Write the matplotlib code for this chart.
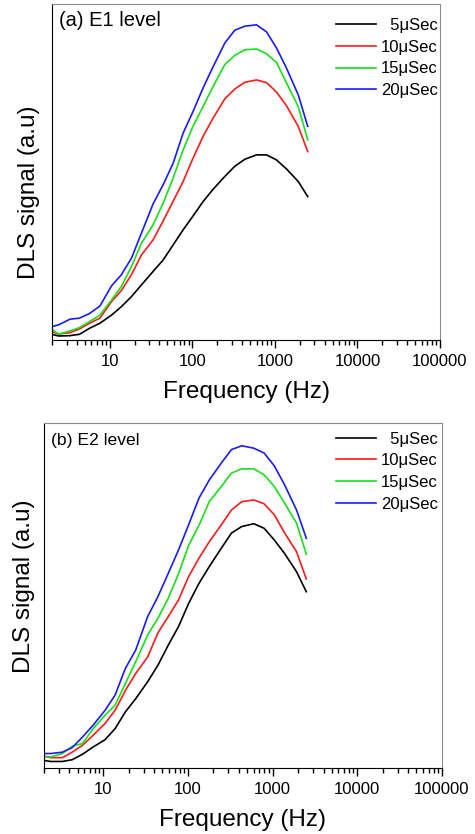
import matplotlib
matplotlib.use("Agg")
import matplotlib.pyplot as plt
from matplotlib.ticker import LogLocator, NullFormatter, FixedLocator, FixedFormatter

plt.rcParams['font.family'] = ['Liberation Sans', 'DejaVu Sans']

freq = [2, 2.4, 3.3, 4.3, 5.7, 7.6, 10.5, 13.8, 18.3, 24.2, 33.5, 44.3, 58.6,
        77.5, 102, 135, 179, 248, 327, 433, 600, 793, 1047, 1384, 1917, 2500]

labels = ["  5\u03bcSec", "10\u03bcSec", "15\u03bcSec", "20\u03bcSec"]
colors = ["#000000", "#ff1a1a", "#1adf1a", "#1a1aff"]

# (a) E1 level
e1_5 = [0.017, 0.012, 0.013, 0.017, 0.035, 0.050, 0.074, 0.099, 0.129, 0.164, 0.204, 0.238, 0.283,
        0.328, 0.369, 0.412, 0.449, 0.487, 0.517, 0.538, 0.551, 0.551, 0.536, 0.509, 0.472, 0.427]
e1_10 = [0.025, 0.018, 0.022, 0.033, 0.050, 0.065, 0.114, 0.147, 0.194, 0.253, 0.298, 0.354, 0.413,
         0.472, 0.541, 0.606, 0.661, 0.718, 0.747, 0.767, 0.774, 0.766, 0.738, 0.697, 0.636, 0.561]
e1_15 = [0.032, 0.017, 0.027, 0.037, 0.055, 0.074, 0.119, 0.159, 0.218, 0.288, 0.343, 0.407, 0.482,
         0.566, 0.636, 0.695, 0.755, 0.820, 0.847, 0.864, 0.866, 0.852, 0.826, 0.765, 0.695, 0.596]
e1_20 = [0.040, 0.045, 0.062, 0.065, 0.079, 0.101, 0.161, 0.194, 0.243, 0.318, 0.405, 0.462, 0.526,
         0.616, 0.680, 0.750, 0.814, 0.884, 0.922, 0.934, 0.938, 0.917, 0.869, 0.809, 0.730, 0.636]

# (b) E2 level
e2_5 = [0.022, 0.019, 0.019, 0.024, 0.040, 0.061, 0.082, 0.114, 0.163, 0.201, 0.250, 0.298, 0.356,
        0.410, 0.477, 0.535, 0.584, 0.637, 0.681, 0.700, 0.708, 0.695, 0.661, 0.622, 0.569, 0.511]
e2_10 = [0.034, 0.030, 0.030, 0.046, 0.066, 0.095, 0.129, 0.167, 0.225, 0.274, 0.322, 0.392, 0.439,
         0.487, 0.555, 0.608, 0.656, 0.705, 0.748, 0.772, 0.777, 0.766, 0.734, 0.682, 0.627, 0.548]
e2_15 = [0.034, 0.032, 0.042, 0.063, 0.071, 0.114, 0.153, 0.182, 0.245, 0.308, 0.386, 0.434, 0.492,
         0.563, 0.645, 0.703, 0.772, 0.816, 0.855, 0.867, 0.867, 0.850, 0.816, 0.768, 0.710, 0.620]
e2_20 = [0.042, 0.042, 0.046, 0.059, 0.090, 0.124, 0.167, 0.211, 0.289, 0.342, 0.439, 0.497, 0.564,
         0.632, 0.705, 0.782, 0.835, 0.884, 0.923, 0.934, 0.927, 0.913, 0.876, 0.821, 0.748, 0.666]

xticks = [10, 100, 1000, 10000, 100000]
xticklabels = ["10", "100", "1000", "10000", "100000"]

fig = plt.figure(figsize=(4.75, 8.34), dpi=100)
ax1 = fig.add_axes([0.1095, 0.5923, 0.8168, 0.4029])
ax2 = fig.add_axes([0.0926, 0.0791, 0.8379, 0.4137])


def style(ax, series, panel, panel_size, panel_xy, ylab_xy, leg_anchor):
    for ys, lab, c in zip(series, labels, colors):
        ax.plot(freq, ys, color=c, lw=1.2, label=lab)
    ax.set_xscale('log')
    ax.set_xlim(2, 100000)
    ax.set_ylim(0, 1)
    ax.xaxis.set_major_locator(FixedLocator(xticks))
    ax.xaxis.set_major_formatter(FixedFormatter(xticklabels))
    ax.xaxis.set_minor_locator(LogLocator(base=10, subs=range(2, 10)))
    ax.xaxis.set_minor_formatter(NullFormatter())
    ax.tick_params(axis='x', which='major', direction='out', length=6, width=1,
                   labelsize=12, pad=4)
    ax.tick_params(axis='x', which='minor', direction='out', length=3.5, width=1)
    ax.set_yticks([])
    for s in ['top', 'right']:
        ax.spines[s].set_color('#8c8c8c')
    for s in ['left', 'bottom']:
        ax.spines[s].set_color('black')
    ax.set_xlabel('Frequency (Hz)', fontsize=17.5, labelpad=9)
    ax.set_ylabel('DLS signal (a.u)', fontsize=17.5)
    ax.yaxis.set_label_coords(*ylab_xy)
    ax.text(panel_xy[0], panel_xy[1], panel, transform=ax.transAxes,
            fontsize=panel_size, va='center', ha='left')
    ax.legend(loc='upper right', bbox_to_anchor=leg_anchor, frameon=False,
              fontsize=12, handlelength=2.4, handletextpad=0.3,
              labelspacing=0.4, borderaxespad=0, borderpad=0)


style(ax1, [e1_5, e1_10, e1_15, e1_20], '(a) E1 level', 14.5, (0.018, 0.952), (-0.031, 0.44),
      (0.995, 0.958))
style(ax2, [e2_5, e2_10, e2_15, e2_20], '(b) E2 level', 12.6, (0.018, 0.95), (-0.022, 0.528),
      (0.99, 0.975))

fig.savefig('out.png', dpi=100)
